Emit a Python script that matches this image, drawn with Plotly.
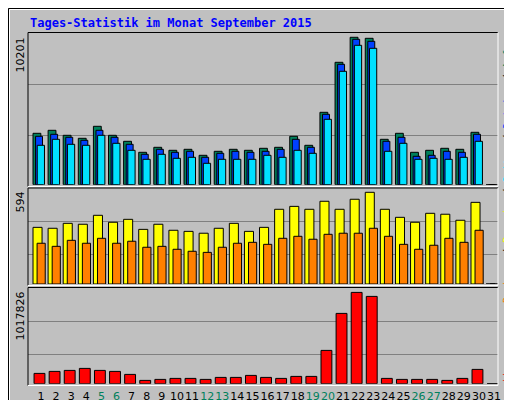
import plotly.graph_objects as go

days = list(range(1, 32))
anfragen = [3557,3764,3418,3211,4041,3418,3003,2242,2588,2380,2450,2034,2311,2450,2380,2519,2588,3349,2726,5010,8470,10201,10131,3142,3557,2242,2380,2519,2450,3626,0]
dateien = [3349,3488,3280,3072,3764,3280,2796,2104,2450,2242,2311,1896,2173,2311,2242,2311,2450,3142,2588,4872,8332,10062,9923,3003,3280,1965,2034,2311,2242,3488,0]
seiten = [2726,3142,2796,2726,3418,2865,2380,1758,2104,1827,1896,1481,1758,1758,1758,2034,1896,2380,2173,4526,7847,9646,9439,2311,2865,1758,1827,1758,1896,3003,0]
besuche = [367,361,393,387,445,400,419,354,387,348,341,329,361,393,341,367,484,503,484,536,484,549,594,484,432,400,458,452,413,529,0]
rechner = [264,244,283,264,296,264,277,238,244,225,212,205,238,264,270,257,296,309,290,322,329,329,361,309,257,225,251,296,270,348,0]
kb = [114824,137120,148268,170564,148268,137120,103676,36788,47936,59084,59084,47936,70232,70232,92528,70232,59084,81380,81380,371228,783704,1017826,973220,59084,47936,47936,47936,36788,59084,159416,0]
weekend = [5, 6, 12, 13, 19, 20, 26, 27]
title = "Tages-Statistik im Monat September 2015"

fig = go.Figure()
line = dict(color="black", width=1)
def bar(y, col, off, w, ax):
    fig.add_trace(go.Bar(x=days, y=y, marker=dict(color=col, line=line), offset=off, width=w,
                         xaxis="x", yaxis=ax, showlegend=False, hoverinfo="skip"))
bar(anfragen, "#00805C", -0.53, 0.52, "y")
bar(dateien, "#0040FF", -0.36, 0.46, "y")
bar(seiten, "#00E0FF", -0.25, 0.48, "y")
bar(besuche, "#FFFF00", -0.53, 0.6, "y2")
bar(rechner, "#FF8000", -0.26, 0.54, "y2")
bar(kb, "#FF0000", -0.46, 0.72, "y3")

ticktext = [f"<span style='color:#00805C'>{d}</span>" if d in weekend else str(d) for d in days]
H = 400.0
def dom(top, bot):
    return [1 - bot / H, 1 - top / H]
ax = dict(showline=False, zeroline=False, showticklabels=False, gridcolor="#808080", gridwidth=1,
          fixedrange=True, automargin=False)
fig.update_layout(
    width=512, height=400, margin=dict(l=0, r=0, t=0, b=0, autoexpand=False),
    paper_bgcolor="#C0C0C0", plot_bgcolor="#C0C0C0", barmode="overlay",
    xaxis=dict(domain=[20/512, 490/512], range=[0.139, 31.26], tickvals=days, ticktext=ticktext,
               showgrid=False, zeroline=False, ticks="", anchor="y3", tickangle=0, automargin=False,
               ticklabelstandoff=4,
               tickfont=dict(family="DejaVu Sans", size=11, color="black")),
    yaxis=dict(domain=dom(25, 176.7), range=[0, 10498], tickvals=[3418, 6948], **ax),
    yaxis2=dict(domain=dom(180.3, 276), range=[0, 620], tickvals=[192, 406], **ax),
    yaxis3=dict(domain=dom(280.3, 375.7), range=[0, 1063500], tickvals=[326600, 694500], **ax),
)
shapes = []
def px(x0, y0, x1, y1, col, w=1):
    shapes.append(dict(type="line", xref="paper", yref="paper", x0=x0/512, x1=x1/512,
                       y0=1-y0/H, y1=1-y1/H, line=dict(color=col, width=w)))
px(0.5, 0.5, 511.5, 0.5, "black"); px(0.5, 0.5, 0.5, 399.5, "black")
px(511.5, 0.5, 511.5, 399.5, "black"); px(0.5, 399.5, 511.5, 399.5, "black")
px(1.5, 1.5, 510, 1.5, "white"); px(1.5, 1.5, 1.5, 398, "white")
px(508, 3, 508, 397, "#808080", 5); px(3, 396, 510, 396, "#808080", 5)
for t, b in [(24.5, 178.5), (180, 277.5), (279.5, 377.5)]:
    px(20, t, 490, t, "black"); px(20, t, 20, b, "black")
    px(490, t, 490, b, "white"); px(20, b, 490, b, "white")
fig.update_layout(shapes=shapes)

ann = []
ann.append(dict(text=title, x=20/512, y=1-15/H, xref="paper", yref="paper", xanchor="left", yanchor="middle",
                showarrow=False, font=dict(family="DejaVu Sans Mono", size=12, color="#0000FF", weight="bold")))
for txt, yt in [("10201", 28), ("594", 182), ("1017826", 282)]:
    ann.append(dict(text=txt, x=12/512, y=1-yt/H, xref="paper", yref="paper", xanchor="center", yanchor="top",
                    textangle=-90, showarrow=False, font=dict(family="DejaVu Sans", size=11, color="black")))
rt = ("<span style='color:#FF8000'>Rechner</span> / <span style='color:#FFFF00'>Besuche</span> / "
      "<span style='color:#00E0FF'>Seiten</span> / <span style='color:#0040FF'>Dateien</span> / "
      "<span style='color:#00805C'>Anfragen</span>")
ann.append(dict(text=rt, x=499/512, y=1-154/H, xref="paper", yref="paper", xanchor="center", yanchor="middle",
                textangle=-90, showarrow=False, font=dict(family="DejaVu Sans Mono", size=10, color="black")))
ann.append(dict(text="kb", x=499/512, y=1-376/H, xref="paper", yref="paper", xanchor="center", yanchor="bottom",
                textangle=-90, showarrow=False, font=dict(family="DejaVu Sans Mono", size=10, color="#FF0000")))
fig.update_layout(annotations=ann)
fig.write_html("out.html", config={"displayModeBar": False})
